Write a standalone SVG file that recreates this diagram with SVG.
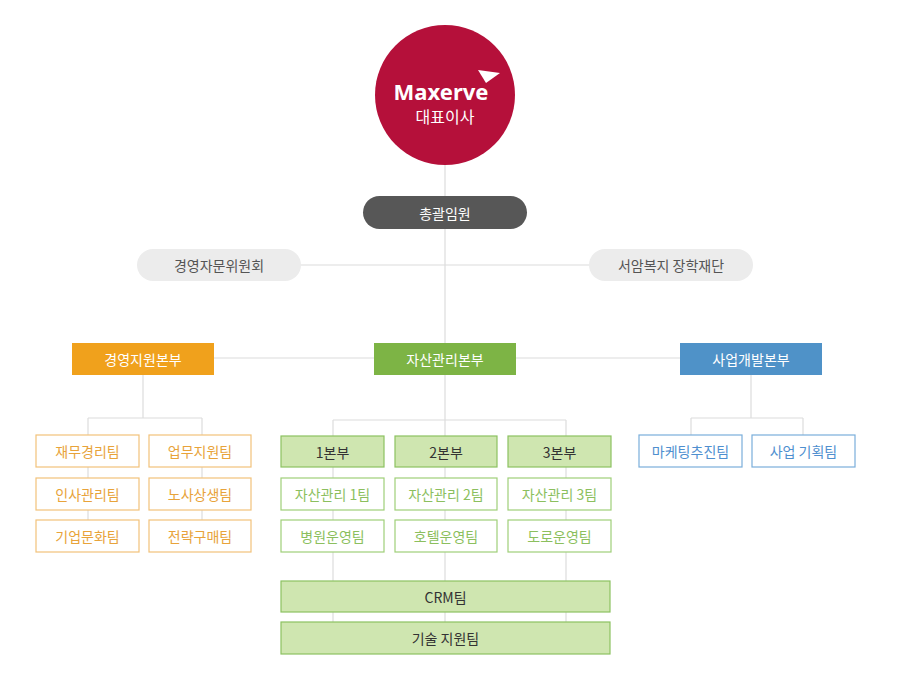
<svg xmlns="http://www.w3.org/2000/svg" width="900" height="682" viewBox="0 0 900 682">
<style>
text{font-family:"Noto Sans CJK KR","Noto Sans",sans-serif;font-size:14px;text-anchor:middle;dominant-baseline:central}
.ln{stroke:#dcdcdc;stroke-width:1.2;fill:none}
.ob{fill:#fff;stroke:#f2c27a;stroke-width:1.2}.ot{fill:#e8a33a}
.gb{fill:#fff;stroke:#9fcf78;stroke-width:1.2}.gt{fill:#8cbf5e}
.gf{fill:#cfe6b0;stroke:#8cc261;stroke-width:1.2}.gft{fill:#333}
.bb{fill:#fff;stroke:#7aaedb;stroke-width:1.2}.bt{fill:#4f8fcf}
.pill{fill:#ececec}.pt{fill:#555}
</style>
<rect width="900" height="682" fill="#fff"/>
<g id="connectors">
<path class="ln" d="M445 165V343M301 265H589M214 358H680M143 375V418M88 418H202M88 418V535M202 418V535M445 375V420M333 420H566M333 420V622M445 420V622M566 420V622M751 375V418M691 418H803M691 418V435M803 418V435"/>
</g>
<g id="ceo">
<circle cx="445" cy="95" r="70" fill="#b5103a"/>
<text x="441" y="91" style="font-family:'Noto Sans',sans-serif;font-size:22px;font-weight:bold;fill:#fff">Maxerve</text>
<path d="M478 70l22 3-14 10z" fill="#fff"/>
<text x="445" y="116" style="font-size:16px;fill:#fff">대표이사</text>
</g>
<g id="exec"><rect x="363" y="196" width="164" height="33" rx="16.5" fill="#575757"/><text x="445" y="212.5" style="fill:#fff">총괄임원</text></g>
<g id="advisory"><rect class="pill" x="137" y="249" width="164" height="32" rx="16"/><text class="pt" x="219" y="265">경영자문위원회</text></g>
<g id="foundation"><rect class="pill" x="589" y="249" width="164" height="32" rx="16"/><text class="pt" x="671" y="265">서암복지 장학재단</text></g>
<g id="hq-mgmt"><rect x="72" y="343" width="142" height="32" fill="#f0a11c"/><text x="143" y="359" style="fill:#fff">경영지원본부</text></g>
<g id="hq-asset"><rect x="374" y="343" width="142" height="32" fill="#7db445"/><text x="445" y="359" style="fill:#fff">자산관리본부</text></g>
<g id="hq-biz"><rect x="680" y="343" width="142" height="32" fill="#4f92c8"/><text x="751" y="359" style="fill:#fff">사업개발본부</text></g>
<g id="t1"><rect class="ob" x="36" y="435" width="103" height="32"/><text class="ot" x="87.5" y="451">재무경리팀</text></g>
<g id="t2"><rect class="ob" x="149" y="435" width="102" height="32"/><text class="ot" x="200" y="451">업무지원팀</text></g>
<g id="t3"><rect class="ob" x="36" y="478" width="103" height="32"/><text class="ot" x="87.5" y="494">인사관리팀</text></g>
<g id="t4"><rect class="ob" x="149" y="478" width="102" height="32"/><text class="ot" x="200" y="494">노사상생팀</text></g>
<g id="t5"><rect class="ob" x="36" y="520" width="103" height="32"/><text class="ot" x="87.5" y="536">기업문화팀</text></g>
<g id="t6"><rect class="ob" x="149" y="520" width="102" height="32"/><text class="ot" x="200" y="536">전략구매팀</text></g>
<g id="d1"><rect class="gf" x="281" y="436" width="103" height="31"/><text class="gft" x="332.5" y="451.5">1본부</text></g>
<g id="d2"><rect class="gf" x="395" y="436" width="102" height="31"/><text class="gft" x="446" y="451.5">2본부</text></g>
<g id="d3"><rect class="gf" x="508" y="436" width="103" height="31"/><text class="gft" x="559.5" y="451.5">3본부</text></g>
<g id="a1"><rect class="gb" x="281" y="478" width="103" height="32"/><text class="gt" x="332.5" y="494">자산관리 1팀</text></g>
<g id="a2"><rect class="gb" x="395" y="478" width="102" height="32"/><text class="gt" x="446" y="494">자산관리 2팀</text></g>
<g id="a3"><rect class="gb" x="508" y="478" width="103" height="32"/><text class="gt" x="559.5" y="494">자산관리 3팀</text></g>
<g id="o1"><rect class="gb" x="281" y="520" width="103" height="32"/><text class="gt" x="332.5" y="536">병원운영팀</text></g>
<g id="o2"><rect class="gb" x="395" y="520" width="102" height="32"/><text class="gt" x="446" y="536">호텔운영팀</text></g>
<g id="o3"><rect class="gb" x="508" y="520" width="103" height="32"/><text class="gt" x="559.5" y="536">도로운영팀</text></g>
<g id="crm"><rect class="gf" x="281" y="581" width="329" height="31"/><text class="gft" x="445.5" y="596.5">CRM팀</text></g>
<g id="tech"><rect class="gf" x="281" y="622" width="329" height="32"/><text class="gft" x="445.5" y="638">기술 지원팀</text></g>
<g id="mkt"><rect class="bb" x="639" y="435" width="103" height="32"/><text class="bt" x="690.5" y="451">마케팅추진팀</text></g>
<g id="plan"><rect class="bb" x="752" y="435" width="103" height="32"/><text class="bt" x="803.5" y="451">사업 기획팀</text></g>
</svg>
